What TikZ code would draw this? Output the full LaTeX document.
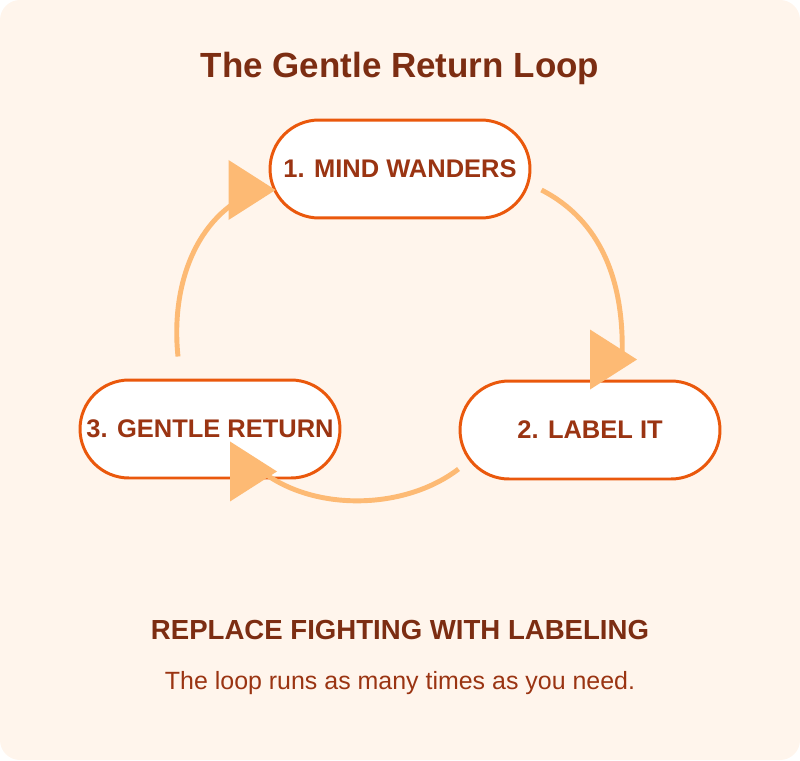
\documentclass[tikz,border=0pt]{standalone}
\usepackage{fontspec}
\setmainfont{Liberation Sans}
\usetikzlibrary{calc}

\definecolor{paper}{HTML}{FFF5EC}
\definecolor{edge}{HTML}{EA580C}
\definecolor{ink}{HTML}{9A3412}
\definecolor{deepink}{HTML}{7C2D12}
\definecolor{soft}{HTML}{FDBA74}

\tikzset{
  stepnode/.style={draw=edge, line width=1.7pt, fill=white, rounded corners=0.98cm,
    minimum width=5.2cm, minimum height=1.96cm, text=ink,
    font=\bfseries\fontsize{14.5}{17}\selectfont},
  flow/.style={draw=soft, line width=2.8pt}
}

\newcommand\tiphead[1]{\fill[soft] ($(#1)+(-32,-30)$) -- ($(#1)+(15,0)$) -- ($(#1)+(-32,30)$) -- cycle;}

\begin{document}
\begin{tikzpicture}[x=0.02cm,y=-0.02cm]

\useasboundingbox (0,0) rectangle (800,760);
\fill[paper, rounded corners=0.4cm] (0,0) rectangle (800,760);

\node[text=deepink, font=\bfseries\fontsize{19.9}{24}\selectfont] (title) at (400,68) {The Gentle Return Loop};

\node[stepnode] (mind) at (400,169) {1. MIND WANDERS};
\node[stepnode] (label) at (590,430) {2. LABEL IT};
\node[stepnode] (back) at (210,429) {3. GENTLE RETURN};

\coordinate (tipA) at ($(label.north)+(32,-20)$);
\coordinate (tipB) at ($(back.south)+(52,-8)$);
\coordinate (tipC) at ($(mind.west)+(-8,21)$);

\draw[flow] ($(mind.east)+(10,21)$) .. controls (600,220) and (625,280) .. (tipA);
\draw[flow] ($(label.west)+(0,39)$) .. controls (405,510) and (315,512) .. (tipB);
\draw[flow] ($(back.north)+(-32,-22)$) .. controls (170,280) and (200,210) .. (tipC);

\tiphead{tipA}
\tiphead{tipB}
\tiphead{tipC}

\node[text=deepink, font=\bfseries\fontsize{15.7}{19}\selectfont] (motto) at (400,630) {REPLACE FIGHTING WITH LABELING};
\node[text=ink, font=\fontsize{14.2}{17}\selectfont] (note) at (400,683) {The loop runs as many times as you need.};

\end{tikzpicture}
\end{document}
